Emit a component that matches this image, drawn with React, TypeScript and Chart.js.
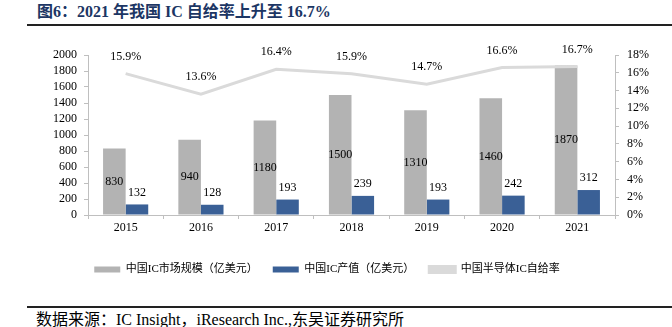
import React, { useEffect, useRef } from "react";
import { Chart, registerables } from "chart.js";

Chart.register(...registerables);

const years = ["2015", "2016", "2017", "2018", "2019", "2020", "2021"];
const marketSize = [830, 940, 1180, 1500, 1310, 1460, 1870];
const production = [132, 128, 193, 239, 193, 242, 312];
const selfSufficiency = [15.9, 13.6, 16.4, 15.9, 14.7, 16.6, 16.7];

const seriesNames = ["中国IC市场规模（亿美元）", "中国IC产值（亿美元）", "中国半导体IC自给率"];

const SERIF = "'Liberation Serif', 'Times New Roman', 'Noto Sans CJK SC', serif";

const labelPlugin = {
  id: "valueLabels",
  afterDatasetsDraw(chart: any) {
    const ctx = chart.ctx;
    ctx.save();
    ctx.font = "12px " + SERIF;
    ctx.fillStyle = "#000";
    ctx.textAlign = "center";
    ctx.textBaseline = "middle";
    chart.data.datasets.forEach((ds: any, di: number) => {
      const meta = chart.getDatasetMeta(di);
      meta.data.forEach((el: any, i: number) => {
        const v = ds.data[i];
        if (di === 0) {
          ctx.fillText(String(v), el.x, (el.y + el.base) / 2);
        } else if (di === 1) {
          ctx.fillText(String(v), el.x, el.y - 12);
        } else {
          ctx.fillText(v.toFixed(1) + "%", el.x, el.y - 17);
        }
      });
    });
    ctx.restore();
  },
};

export default function App() {
  const ref = useRef<HTMLCanvasElement>(null);

  useEffect(() => {
    if (!ref.current) return;
    const axisColor = "#bfbfbf";
    const tickFont = { family: SERIF, size: 12 };
    const chart = new Chart(ref.current, {
      type: "bar",
      data: {
        labels: years,
        datasets: [
          {
            type: "bar",
            label: seriesNames[0],
            data: marketSize,
            backgroundColor: "#b3b3b3",
            yAxisID: "y",
            categoryPercentage: 0.6,
            barPercentage: 1.0,
            order: 1,
          },
          {
            type: "bar",
            label: seriesNames[1],
            data: production,
            backgroundColor: "#3a6096",
            yAxisID: "y",
            categoryPercentage: 0.6,
            barPercentage: 1.0,
            order: 1,
          },
          {
            type: "line",
            label: seriesNames[2],
            data: selfSufficiency,
            borderColor: "#dadada",
            backgroundColor: "#dadada",
            borderWidth: 3,
            pointRadius: 0,
            tension: 0,
            yAxisID: "y1",
            order: 0,
          },
        ],
      } as any,
      options: {
        responsive: false,
        animation: false,
        layout: { padding: { top: 25, bottom: 10, left: 0, right: 18 } },
        plugins: {
          tooltip: { enabled: false },
          legend: {
            position: "bottom",
            labels: {
              boxWidth: 26,
              boxHeight: 6,
              padding: 15,
              color: "#000",
              font: { family: SERIF, size: 11 },
              sort: (a: any, b: any) => a.datasetIndex - b.datasetIndex,
            },
          },
        },
        scales: {
          x: {
            grid: { drawOnChartArea: false, tickLength: 4, color: axisColor, offset: true },
            border: { color: axisColor },
            ticks: { font: tickFont, color: "#000", padding: 2 },
            afterFit: (s: any) => {
              s.height = 34;
            },
          },
          y: {
            position: "left",
            min: 0,
            max: 2000,
            ticks: {
              stepSize: 200,
              autoSkip: false,
              font: tickFont,
              color: "#000",
              padding: 7,
              callback: (v: any) => String(v),
            },
            grid: { drawOnChartArea: false, tickLength: 4, color: axisColor },
            border: { color: axisColor },
            afterFit: (s: any) => {
              s.width = 88;
            },
          },
          y1: {
            position: "right",
            min: 0,
            max: 18,
            ticks: {
              stepSize: 2,
              autoSkip: false,
              font: tickFont,
              color: "#000",
              padding: 8,
              callback: (v: any) => v + "%",
            },
            grid: { drawOnChartArea: false, tickLength: 4, color: axisColor },
            border: { color: axisColor },
            afterFit: (s: any) => {
              s.width = 39;
            },
          },
        },
      } as any,
      plugins: [labelPlugin],
    });
    return () => chart.destroy();
  }, []);

  return (
    <div
      style={{
        position: "fixed",
        left: 0,
        top: 0,
        width: 672,
        height: 327,
        background: "#fff",
        fontFamily: SERIF,
        overflow: "hidden",
      }}
    >
      <div
        style={{
          position: "absolute",
          left: 37,
          top: 2,
          fontSize: 16,
          lineHeight: "20px",
          fontWeight: "bold",
          color: "#1c3664",
          whiteSpace: "nowrap",
        }}
      >
        图6：2021 年我国 IC 自给率上升至 16.7%
      </div>
      <div style={{ position: "absolute", left: 27, top: 24, width: 645, height: 2, background: "#222" }} />
      <div style={{ position: "absolute", left: 0, top: 30, width: 672, height: 265 }}>
        <canvas ref={ref} width={672} height={265} style={{ width: 672, height: 265, display: "block" }} />
      </div>
      <div style={{ position: "absolute", left: 27, top: 306, width: 645, height: 1.5, background: "#222" }} />
      <div
        style={{
          position: "absolute",
          left: 36,
          top: 310,
          fontSize: 16,
          lineHeight: "20px",
          color: "#000",
          whiteSpace: "nowrap",
        }}
      >
        数据来源：IC Insight，iResearch Inc.,东吴证券研究所
      </div>
    </div>
  );
}
